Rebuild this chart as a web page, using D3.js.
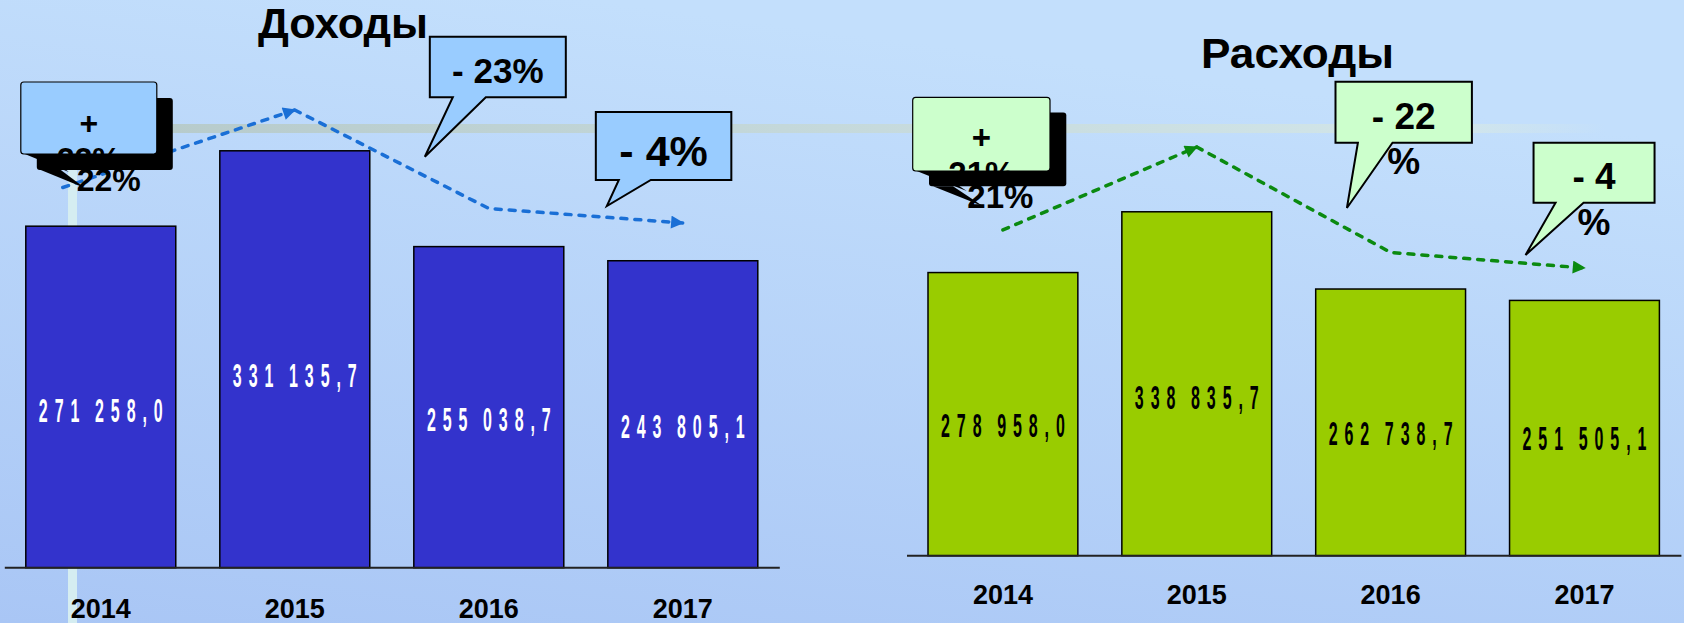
<!DOCTYPE html>
<html>
<head>
<meta charset="utf-8">
<script src="https://cdn.jsdelivr.net/npm/d3@7"></script>
<style>
  body { margin: 0; overflow: hidden; }
  svg { display: block; font-family: "Liberation Sans", Arial, sans-serif; font-weight: bold; }
</style>
</head>
<body>
<div id="chart"></div>
<script>
// données
const years = ["2014", "2015", "2016", "2017"];
const income = [271258.0, 331135.7, 255038.7, 243805.1];
const expense = [278958.0, 338835.7, 262738.7, 251505.1];
const incomeChange = [["+", "22%"], ["- 23%"], ["- 4%"]];
const expenseChange = [["+", "21%"], ["- 22", "%"], ["- 4", "%"]];
const titles = ["Доходы", "Расходы"];

const width = 1684;
const height = 623;

const ru = d3.formatLocale({decimal: ",", thousands: " ", grouping: [3], currency: ["", ""]});
const fmt = ru.format(",.1f");

// mise en page des deux graphiques
const panels = [
  {
    title: titles[0], values: income, changes: incomeChange,
    x0: 25.8, x1: 757.8, base: 567.7, top: 64.1,
    titleX: 343, titleY: 38, titleSize: 42, titleLen: 170,
    barFill: "#3333cc", labelFill: "#fff", yearY: 617.7,
    boxFill: "#99ccff", trend: "#1a6fd6", trendRange: [223, 110], trendDx: -38,
    callouts: [
      {band: 0, dx: -5, y: 82, w: 136, h: 72, tail: [4, 24], tip: [48, 18], shadow: [16, 16], textShift: [20, 21], size: 32, first: 52, lh: 36},
      {band: 2, dx: 16, y: 36.7, w: 136, h: 60.6, tail: [23, 56], tip: [-5, 59.4], size: 35, first: 46.6},
      {band: 3, dx: -12, y: 112, w: 135.5, h: 68, tail: [23, 55], tip: [11, 26], size: 43, first: 53.7}
    ]
  },
  {
    title: titles[1], values: expense, changes: expenseChange,
    x0: 928, x1: 1659.4, base: 555.7, top: 149.7,
    titleX: 1297.5, titleY: 68.3, titleSize: 42, titleLen: 193,
    barFill: "#99cc00", labelFill: "#000", yearY: 604.3,
    boxFill: "#ccffcc", trend: "#0b8a10", trendRange: [268, 147], trendDx: 0,
    callouts: [
      {band: 0, dx: -15.3, y: 97.3, w: 137.3, h: 73.7, tail: [4, 24], tip: [54, 20], shadow: [16.3, 15.3], textShift: [19, 23], size: 33, first: 52, lh: 36},
      {band: 2, dx: 19.8, y: 81.7, w: 136.4, h: 61, tail: [22.4, 57], tip: [11.4, 65.3], size: 37, first: 47.6, lh: 44.7},
      {band: 3, dx: 24, y: 142.7, w: 121, h: 60, tail: [22, 50], tip: [-8, 52.3], size: 37, first: 46.6, lh: 45.7}
    ]
  }
];

const svg = d3.select("#chart").append("svg")
  .attr("width", width)
  .attr("height", height);

const defs = svg.append("defs");

const bg = defs.append("linearGradient")
  .attr("id", "bg")
  .attr("x1", 0.35).attr("y1", 0).attr("x2", 0).attr("y2", 1);
bg.append("stop").attr("offset", 0).attr("stop-color", "#c3dffc");
bg.append("stop").attr("offset", 1).attr("stop-color", "#a9c6f5");

const band = defs.append("linearGradient").attr("id", "band");
band.append("stop").attr("offset", 0).attr("stop-color", "#b5c9c9");
band.append("stop").attr("offset", 0.9).attr("stop-color", "#d2e6ea");
band.append("stop").attr("offset", 1).attr("stop-color", "#d2e6ea").attr("stop-opacity", 0);

panels.forEach((p, i) => {
  defs.append("marker")
    .attr("id", "arrow" + i)
    .attr("viewBox", "0 0 10 10")
    .attr("refX", 9).attr("refY", 5)
    .attr("markerUnits", "userSpaceOnUse")
    .attr("markerWidth", 15).attr("markerHeight", 13)
    .attr("orient", "auto")
    .append("path")
    .attr("d", "M0,0L10,5L0,10Z")
    .attr("fill", p.trend);
});

// fond
svg.append("rect")
  .attr("width", width).attr("height", height)
  .attr("fill", "url(#bg)");

svg.append("rect")
  .attr("x", 70).attr("y", 124)
  .attr("width", 1535).attr("height", 9)
  .attr("fill", "url(#band)");

svg.append("rect")
  .attr("x", 68).attr("y", 124)
  .attr("width", 9).attr("height", height - 124)
  .attr("fill", "#d5edf1");

panels.forEach((p, pi) => {
  const g = svg.append("g");

  const x = d3.scaleBand()
    .domain(years)
    .range([p.x0, p.x1])
    .paddingInner(0.227)
    .paddingOuter(0);

  const y = d3.scaleLinear()
    .domain([0, 400000])
    .range([p.base, p.top]);

  const ty = d3.scaleLinear()
    .domain(d3.extent(p.values))
    .range(p.trendRange);

  const rows = years.map((year, i) => ({year, value: p.values[i]}));

  // barres
  g.selectAll("rect.bar")
    .data(rows)
    .enter().append("rect")
    .attr("class", "bar")
    .attr("x", d => x(d.year))
    .attr("y", d => y(d.value))
    .attr("width", x.bandwidth())
    .attr("height", d => y(0) - y(d.value))
    .attr("fill", p.barFill)
    .attr("stroke", "#000")
    .attr("stroke-width", 1.5);

  // axe
  g.append("line")
    .attr("x1", p.x0 - 21).attr("x2", p.x1 + 22)
    .attr("y1", y(0)).attr("y2", y(0))
    .attr("stroke", "#222")
    .attr("stroke-width", 2);

  // valeurs dans les barres (chiffres étroits et espacés)
  g.selectAll("g.val")
    .data(rows)
    .enter().append("g")
    .attr("class", "val")
    .attr("transform", d => `translate(${x(d.year) + x.bandwidth() / 2},${y(d.value) + 0.54 * (y(0) - y(d.value)) + 11.5})`)
    .append("text")
    .attr("transform", "scale(0.533,1.08)")
    .attr("text-anchor", "middle")
    .attr("dx", 6.5)
    .attr("font-size", 30)
    .attr("letter-spacing", 13)
    .attr("word-spacing", -5)
    .attr("fill", p.labelFill)
    .text(d => fmt(d.value));

  // années
  g.selectAll("text.year")
    .data(years)
    .enter().append("text")
    .attr("class", "year")
    .attr("x", d => x(d) + x.bandwidth() / 2)
    .attr("y", p.yearY)
    .attr("text-anchor", "middle")
    .attr("font-size", 27)
    .text(d => d);

  // titre
  g.append("text")
    .attr("x", p.titleX)
    .attr("y", p.titleY)
    .attr("text-anchor", "middle")
    .attr("font-size", p.titleSize)
    .attr("textLength", p.titleLen)
    .attr("lengthAdjust", "spacingAndGlyphs")
    .text(p.title);

  // tendance
  const pts = rows.map((d, i) => [x(d.year) + x.bandwidth() / 2 + (i === 0 ? p.trendDx : 0), ty(d.value)]);
  const line = d3.line();
  [pts.slice(0, 2), pts.slice(1)].forEach(seg => {
    g.append("path")
      .attr("d", line(seg))
      .attr("fill", "none")
      .attr("stroke", p.trend)
      .attr("stroke-width", 3.5)
      .attr("stroke-linecap", "round")
      .attr("stroke-dasharray", "6,8")
      .attr("marker-end", `url(#arrow${pi})`);
  });

  // bulles
  p.callouts.forEach((c, ci) => {
    const bx = x(years[c.band]) + c.dx;
    const lines = p.changes[ci];
    const cx = bx + c.w / 2;
    const tailPath = (ox, oy) => {
      const yb = c.y + c.h + oy;
      return `M${bx + ox + c.tail[0]},${yb}L${bx + ox + c.tip[0]},${yb + c.tip[1]}L${bx + ox + c.tail[1]},${yb}Z`;
    };
    const label = (ox, oy) => g.append("text")
      .attr("text-anchor", "middle")
      .attr("font-size", c.size)
      .selectAll("tspan")
      .data(lines)
      .enter().append("tspan")
      .attr("x", cx + ox)
      .attr("y", (d, li) => c.y + c.first + li * (c.lh || 0) + oy)
      .text(d => d);

    if (c.shadow) {
      const [sx, sy] = c.shadow;
      g.append("rect")
        .attr("x", bx + sx).attr("y", c.y + sy)
        .attr("width", c.w).attr("height", c.h)
        .attr("rx", 3)
        .attr("fill", "#000");
      g.append("path").attr("d", tailPath(sx, sy)).attr("fill", "#000");
      label(c.textShift[0], c.textShift[1]);
      g.append("rect")
        .attr("x", bx).attr("y", c.y)
        .attr("width", c.w).attr("height", c.h)
        .attr("rx", 3)
        .attr("fill", p.boxFill)
        .attr("stroke", "#000")
        .attr("stroke-width", 1.2);
      g.append("path").attr("d", tailPath(0, 0)).attr("fill", "#000");
      label(0, 0);
    } else {
      const yb = c.y + c.h;
      g.append("path")
        .attr("d", `M${bx},${c.y}H${bx + c.w}V${yb}H${bx + c.tail[1]}L${bx + c.tip[0]},${yb + c.tip[1]}L${bx + c.tail[0]},${yb}H${bx}Z`)
        .attr("fill", p.boxFill)
        .attr("stroke", "#000")
        .attr("stroke-width", 2);
      label(0, 0);
    }
  });
});
</script>
</body>
</html>
